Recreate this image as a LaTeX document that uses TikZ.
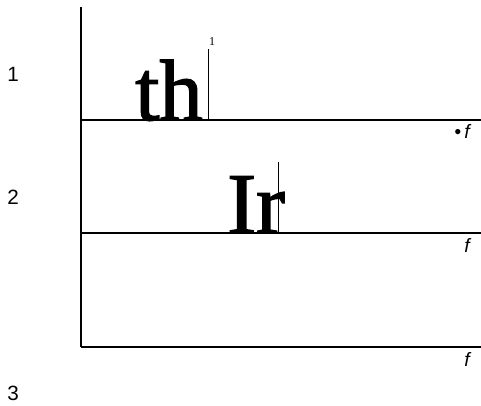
\documentclass[tikz,border=0pt]{standalone}
\usepackage{fontspec}
\setmainfont{Liberation Serif}
\newfontfamily\labfont{Liberation Sans}
\newfontfamily\heavyfont[FakeBold=1.6]{Liberation Serif}
\begin{document}
\begin{tikzpicture}[x=0.75pt,y=-0.75pt,
  rule/.style={line width=1.5pt},
  thin/.style={line width=0.75pt},
  lab/.style={font=\labfont\fontsize{15.5}{17}\selectfont,inner sep=0},
  ff/.style={font=\labfont\itshape\fontsize{14.5}{16}\selectfont,inner sep=0,anchor=base east},
  big/.style={font=\heavyfont\fontsize{65}{70}\selectfont,inner sep=0,anchor=base west}]
\useasboundingbox (0,0) rectangle (481,405);
\coordinate (top) at (81,7);
\coordinate (c1) at (81,120);
\coordinate (c2) at (81,233);
\coordinate (c3) at (81,347);
\draw[rule] (top) -- (c3);
\draw[rule] (c1) -- (481,120);
\draw[rule] (c2) -- (481,233);
\draw[rule] (c3) -- (481,347);
\node[lab] (n1) at (13,74) {1};
\node[lab] (n2) at (13,197) {2};
\node[lab] (n3) at (13,393) {3};
\node[big] (th) at (135,120) {th};
\draw[thin] (208,49) -- (208,120);
\node[font=\fontsize{9}{10}\selectfont,inner sep=0] (s1) at (212,42) {1};
\node[big] (ir) at (227,233) {Ir};
\draw[thin] (278,162) -- (278,233);
\node[ff] (f1) at (470,138) {\textbullet\,f};
\node[ff] (f2) at (470,252) {f};
\node[ff] (f3) at (470,366) {f};
\end{tikzpicture}
\end{document}
